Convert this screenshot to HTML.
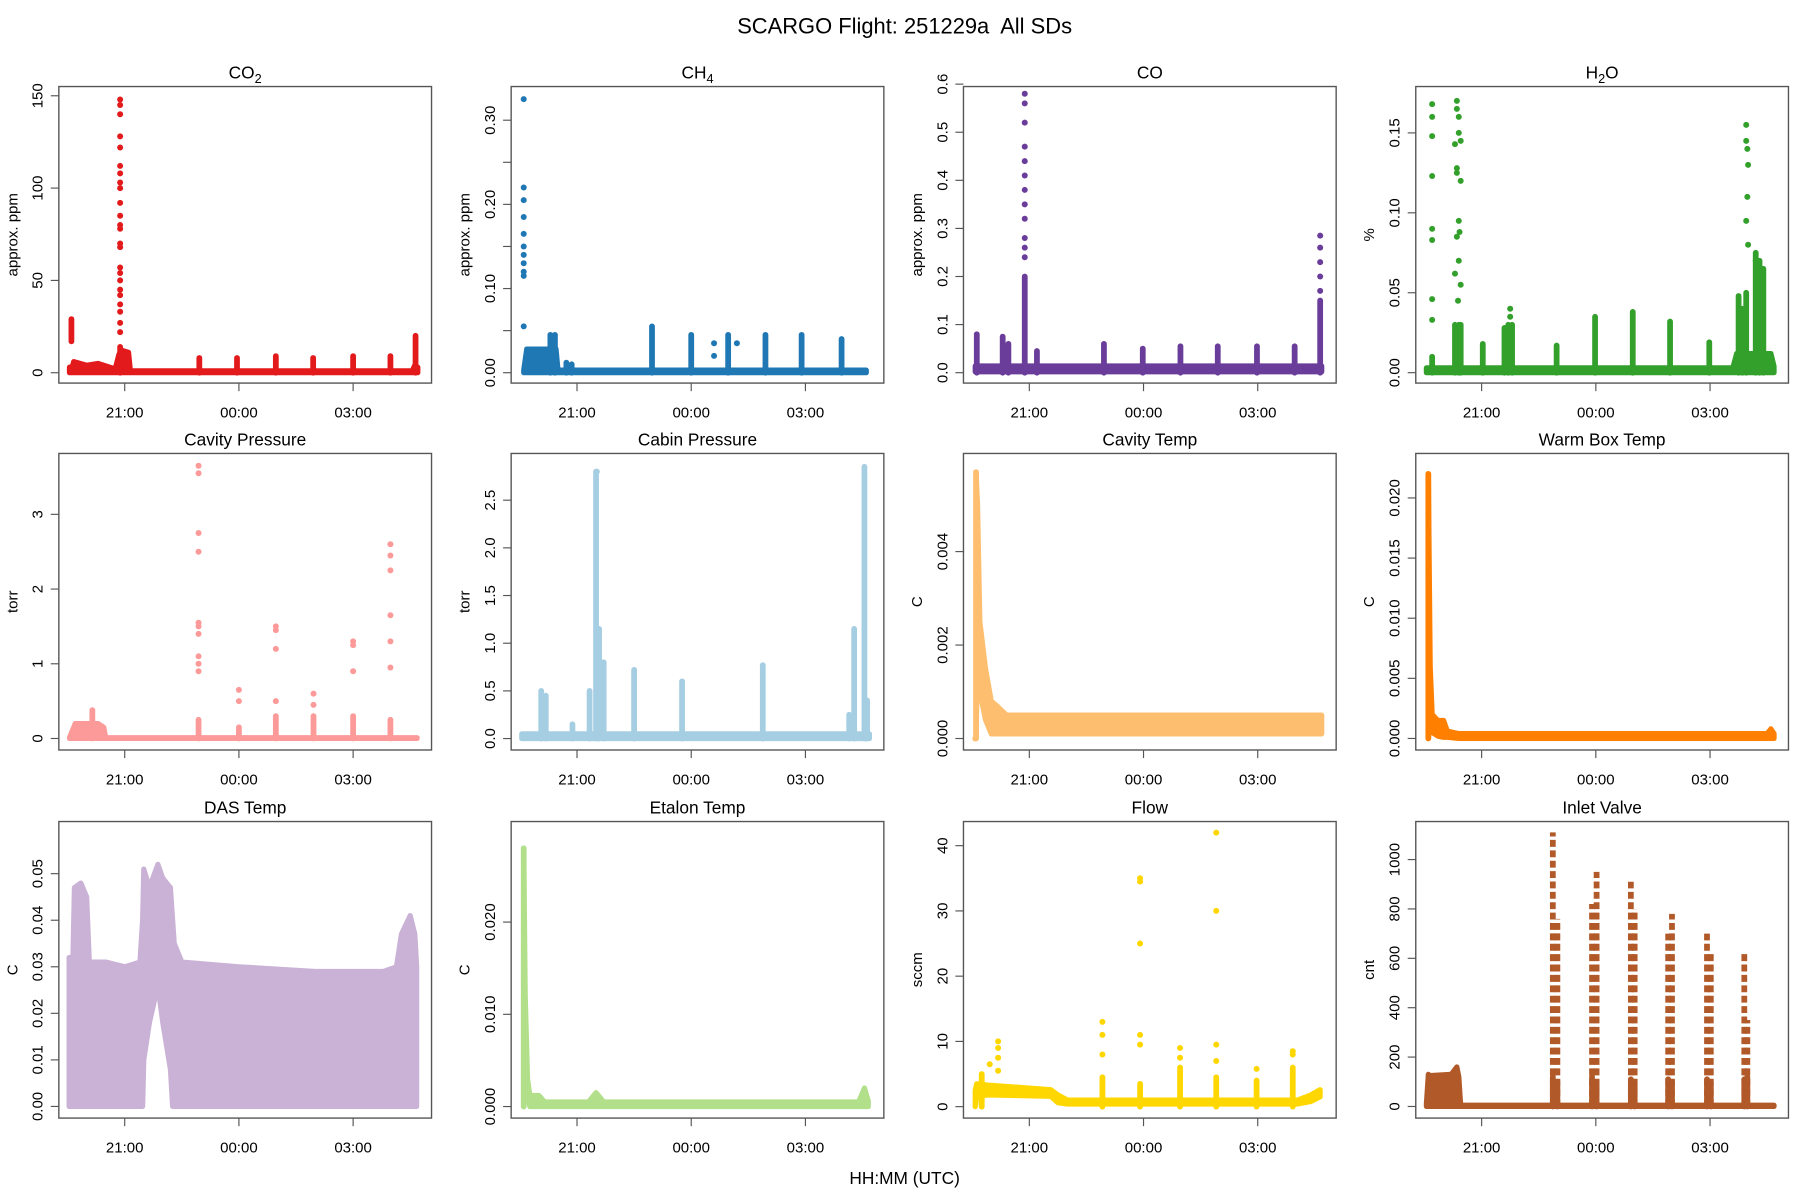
<!DOCTYPE html>
<html><head><meta charset="utf-8"><style>
html,body{margin:0;padding:0;background:#fff;}
svg{display:block;font-family:"Liberation Sans",sans-serif;}
</style></head><body>
<svg id="fig" xmlns="http://www.w3.org/2000/svg" width="1800" height="1200" viewBox="0 0 1560 1040">
<rect width="1560" height="1040" fill="#fff"/>
<text x="784" y="29" font-size="19" text-anchor="middle" xml:space="preserve">SCARGO Flight: 251229a  All SDs</text>
<text x="784" y="1026" font-size="15" text-anchor="middle">HH:MM (UTC)</text>
</svg>
<script>
// time in hours since 18:00 UTC
const xTickHours = [3, 6, 9];
const xTickLabels = ["21:00", "00:00", "03:00"];
const xDomain = [1.27, 11.06];

// ---- CO2 ----
const co2BandT = [1.55,1.62,1.66,2.0,2.3,2.6,2.75,2.85,2.95,3.1,3.15,10.55,10.62,10.7];
const co2BandLo = [0,0,0,0,0,0,0,0,0,0,0,0,0,0];
const co2BandHi = [3,3,6,4,5,3,2,10,12,11,1,1,4,3];
const co2ColT = [1.6,2.88,4.96,5.95,6.97,7.95,9.0,9.98,10.64];
const co2ColLo = [17,0,0,0,0,0,0,0,0];
const co2ColHi = [29,14,8,8,9,8,9,9,20];
const co2PtT = [2.88,2.88,2.88,2.88,2.88,2.88,2.88,2.88,2.88,2.88,2.88,2.88,2.88,2.88,2.88,2.88,2.88,2.88,2.88,2.88,2.88,2.88,2.88,2.88];
const co2PtV = [148,145,140,128,122,112,108,103,100,92,85,80,78,70,68,57,54,50,45,42,37,33,27,22];
// ---- CH4 ----
const ch4BandT = [1.6,1.68,2.45,2.5,10.6];
const ch4BandLo = [0,0,0,0,0];
const ch4BandHi = [0.003,0.028,0.028,0.003,0.003];
const ch4ColT = [2.3,2.42,2.72,2.86,4.97,6.0,6.97,7.95,8.9,9.95];
const ch4ColLo = [0,0,0,0,0,0,0,0,0,0];
const ch4ColHi = [0.045,0.045,0.012,0.01,0.055,0.045,0.045,0.045,0.045,0.04];
const ch4PtT = [1.6,1.6,1.6,1.6,1.6,1.6,1.6,1.6,1.6,1.6,1.6,6.6,6.6,7.2];
const ch4PtV = [0.325,0.22,0.205,0.185,0.165,0.15,0.14,0.13,0.12,0.115,0.055,0.035,0.02,0.035];
// ---- CO ----
const coBandT = [1.58,10.68];
const coBandLo = [0.002,0.002];
const coBandHi = [0.014,0.014];
const coColT = [1.62,2.3,2.45,2.88,3.2,4.96,5.98,6.97,7.95,8.98,9.97,10.64];
const coColLo = [0,0,0,0,0,0,0,0,0,0,0,0];
const coColHi = [0.08,0.075,0.06,0.2,0.045,0.06,0.05,0.055,0.055,0.055,0.055,0.15];
const coPtT = [2.88,2.88,2.88,2.88,2.88,2.88,2.88,2.88,2.88,2.88,2.88,2.88,10.64,10.64,10.64,10.64,10.64];
const coPtV = [0.58,0.56,0.52,0.47,0.44,0.41,0.38,0.35,0.32,0.28,0.26,0.24,0.285,0.26,0.23,0.2,0.17];
// ---- H2O ----
const h2oBandT = [1.55,9.6,9.7,10.6,10.68];
const h2oBandLo = [0,0,0,0,0];
const h2oBandHi = [0.003,0.003,0.012,0.012,0.004];
const h2oColT = [1.7,2.3,2.4,2.45,3.03,3.6,3.7,3.8,4.97,5.98,6.97,7.95,8.98,9.75,9.85,9.95,10.2,10.3,10.4];
const h2oColLo = [0,0,0,0,0,0,0,0,0,0,0,0,0,0,0,0,0,0,0];
const h2oColHi = [0.01,0.03,0.03,0.03,0.018,0.028,0.03,0.03,0.017,0.035,0.038,0.032,0.019,0.048,0.04,0.05,0.075,0.07,0.065];
const h2oPtT = [1.7,1.7,1.7,1.7,1.7,1.7,1.7,1.7,2.35,2.35,2.4,2.4,2.45,2.45,2.35,2.4,2.35,2.4,2.45,2.3,2.35,2.42,2.3,2.38,3.75,3.75,9.95,9.95,9.98,10.0,9.98,9.95,10.0,10.2,10.25];
const h2oPtV = [0.168,0.16,0.148,0.123,0.09,0.083,0.046,0.033,0.17,0.165,0.16,0.15,0.145,0.12,0.125,0.095,0.085,0.07,0.055,0.143,0.128,0.088,0.062,0.045,0.04,0.035,0.155,0.145,0.14,0.13,0.11,0.095,0.08,0.07,0.06];
// ---- Cavity Pressure ----
const cpBandT = [1.55,1.62,1.7,2.3,2.45,2.5,10.68];
const cpBandLo = [0,0,0,0,0,0,0];
const cpBandHi = [0.01,0.1,0.2,0.2,0.15,0.01,0.01];
const cpColT = [2.15,4.94,6.0,6.97,7.96,9.0,9.98];
const cpColLo = [0,0,0,0,0,0,0];
const cpColHi = [0.38,0.25,0.15,0.3,0.3,0.3,0.25];
const cpPtT = [4.94,4.94,4.94,4.94,4.94,4.94,4.94,4.94,4.94,4.94,6.0,6.0,6.97,6.97,6.97,6.97,7.96,7.96,9.0,9.0,9.0,9.98,9.98,9.98,9.98,9.98,9.98];
const cpPtV = [3.65,3.55,2.75,2.5,1.55,1.5,1.4,1.1,1.0,0.9,0.65,0.5,1.5,1.45,1.2,0.5,0.6,0.45,1.3,1.25,0.9,2.6,2.45,2.25,1.65,1.3,0.95];
// ---- Cabin Pressure ----
const cabBandT = [1.55,10.68];
const cabBandLo = [0,0];
const cabBandHi = [0.05,0.05];
const cabColT = [2.06,2.18,2.88,3.33,3.5,3.58,3.7,4.5,5.76,7.88,10.15,10.28,10.55,10.62];
const cabColLo = [0,0,0,0,0,0,0,0,0,0,0,0,0,0];
const cabColHi = [0.5,0.45,0.15,0.5,2.8,1.15,0.8,0.72,0.6,0.77,0.25,1.15,2.85,0.4];
const cabPtT = [3.52];
const cabPtV = [2.8];
// ---- Cavity Temp ----
const ctBandT = [1.6,1.64,1.7,1.85,2.0,2.15,2.4,10.68];
const ctBandLo = [0.0,0.0016,0.001,0.0004,0.0001,0.0001,0.0001,0.0001];
const ctBandHi = [0.0057,0.005,0.0025,0.0015,0.0008,0.0007,0.0005,0.0005];
const ctColT = [1.6];
const ctColLo = [0.0];
const ctColHi = [0.0057];
const ctPtT = [1.58];
const ctPtV = [0.0];
// ---- Warm Box Temp ----
const wbBandT = [1.6,1.65,1.7,1.85,2.0,2.1,2.4,10.5,10.6,10.68];
const wbBandLo = [0.0,0.002,0.0005,0.0002,0.0001,0.0001,0.0,0.0,0.0,0.0];
const wbBandHi = [0.022,0.006,0.002,0.0015,0.0015,0.0006,0.0004,0.0004,0.0008,0.0004];
const wbColT = [1.6];
const wbColLo = [0];
const wbColHi = [0.022];
const wbPtT = [];
const wbPtV = [];
// ---- DAS Temp ----
const dasBandT = [1.54,1.64,1.68,1.85,2.0,2.07,2.5,3.0,3.4,3.47,3.5,3.65,3.87,4.0,4.2,4.26,4.3,4.5,6.0,8.0,9.8,10.14,10.27,10.5,10.62,10.67];
const dasBandLo = [0,0,0,0,0,0,0,0,0,0,0.01,0.018,0.026,0.018,0.008,0,0,0,0,0,0,0,0,0,0,0];
const dasBandHi = [0.032,0.032,0.047,0.048,0.045,0.031,0.031,0.03,0.031,0.04,0.051,0.047,0.052,0.049,0.047,0.04,0.035,0.031,0.03,0.029,0.029,0.03,0.037,0.041,0.037,0.03];
const dasColT = [];
const dasColLo = [];
const dasColHi = [];
const dasPtT = [];
const dasPtV = [];
// ---- Etalon Temp ----
const etBandT = [1.6,1.64,1.7,1.76,2.0,2.15,3.3,3.5,3.7,10.4,10.55,10.65];
const etBandLo = [0,0.004,0.001,0,0,0,0,0,0,0,0,0];
const etBandHi = [0.028,0.012,0.003,0.0012,0.0012,0.0005,0.0005,0.0015,0.0005,0.0005,0.002,0.0006];
const etColT = [1.6];
const etColLo = [0];
const etColHi = [0.028];
const etPtT = [];
const etPtV = [];
// ---- Flow ----
const flBandT = [1.58,1.62,1.9,3.56,3.75,4.0,10.05,10.4,10.64];
const flBandLo = [0,1.5,1.8,1.6,0.6,0.4,0.4,0.8,1.5];
const flBandHi = [2.5,3.5,3.3,2.6,1.8,1.0,1.0,1.8,2.6];
const flColT = [1.75,4.92,5.91,6.96,7.91,8.97,9.92];
const flColLo = [0,0,0,0,0,0,0];
const flColHi = [5,4.5,3.5,6,4.5,4,6];
const flPtT = [1.96,2.18,2.18,2.18,2.18,4.92,4.92,4.92,5.91,5.91,5.91,5.91,5.91,6.96,6.96,7.91,7.91,7.91,7.91,8.97,9.92,9.92];
const flPtV = [6.5,10,9,7.5,5.5,13,11,8,35,34.5,25,11,9.5,9,7.5,42,30,9.5,7,5.8,8.5,8];
// ---- Inlet Valve ----
const ivBandT = [1.55,1.6,1.65,2.2,2.35,2.4,2.45,10.68];
const ivBandLo = [0,0,0,0,0,0,0,0];
const ivBandHi = [10,130,125,130,160,120,5,5];
const ivColT = [4.87,4.99,5.9,6.02,6.92,7.02,7.9,8.0,8.92,9.02,9.9,9.98];
const ivColLo = [0,0,0,0,0,0,0,0,0,0,0,0];
const ivColHi = [120,100,120,100,110,100,110,100,110,100,110,120];
const ivDotT = [4.87,4.99,5.9,6.02,6.92,7.02,7.9,8.0,8.92,9.02,9.9,9.98];
const ivDotHi = [1110,760,820,950,910,800,700,780,700,620,630,350];

const panels = [
 {n:"co2",t:["CO","2"],yl:"approx. ppm",c:"#E31A1C",col:0,row:0,yd:[-5.6,155],yt:[0,50,100,150],ytl:["0","50","100","150"],b:[co2BandT,co2BandLo,co2BandHi],k:[co2ColT,co2ColLo,co2ColHi],p:[co2PtT,co2PtV]},
 {n:"ch4",t:["CH","4"],yl:"approx. ppm",c:"#1F78B4",col:1,row:0,yd:[-0.0123,0.34],yt:[0,0.05,0.1,0.15,0.2,0.25,0.3],ytl:["0.00","","0.10","","0.20","","0.30"],b:[ch4BandT,ch4BandLo,ch4BandHi],k:[ch4ColT,ch4ColLo,ch4ColHi],p:[ch4PtT,ch4PtV]},
 {n:"co",t:["CO",""],yl:"approx. ppm",c:"#6A3D9A",col:2,row:0,yd:[-0.0216,0.595],yt:[0,0.1,0.2,0.3,0.4,0.5,0.6],ytl:["0.0","0.1","0.2","0.3","0.4","0.5","0.6"],b:[coBandT,coBandLo,coBandHi],k:[coColT,coColLo,coColHi],p:[coPtT,coPtV]},
 {n:"h2o",t:["H","2","O"],yl:"%",c:"#33A02C",col:3,row:0,yd:[-0.0065,0.179],yt:[0,0.05,0.1,0.15],ytl:["0.00","0.05","0.10","0.15"],b:[h2oBandT,h2oBandLo,h2oBandHi],k:[h2oColT,h2oColLo,h2oColHi],p:[h2oPtT,h2oPtV]},
 {n:"cavity-pressure",t:["Cavity Pressure",""],yl:"torr",c:"#FB9A99",col:0,row:1,yd:[-0.154,3.815],yt:[0,1,2,3],ytl:["0","1","2","3"],b:[cpBandT,cpBandLo,cpBandHi],k:[cpColT,cpColLo,cpColHi],p:[cpPtT,cpPtV]},
 {n:"cabin-pressure",t:["Cabin Pressure",""],yl:"torr",c:"#A6CEE3",col:1,row:1,yd:[-0.12,2.99],yt:[0,0.5,1,1.5,2,2.5],ytl:["0.0","0.5","1.0","1.5","2.0","2.5"],b:[cabBandT,cabBandLo,cabBandHi],k:[cabColT,cabColLo,cabColHi],p:[cabPtT,cabPtV]},
 {n:"cavity-temp",t:["Cavity Temp",""],yl:"C",c:"#FDBF6F",col:2,row:1,yd:[-0.000246,0.0061],yt:[0,0.002,0.004],ytl:["0.000","0.002","0.004"],b:[ctBandT,ctBandLo,ctBandHi],k:[ctColT,ctColLo,ctColHi],p:[ctPtT,ctPtV]},
 {n:"warm-box-temp",t:["Warm Box Temp",""],yl:"C",c:"#FF7F00",col:3,row:1,yd:[-0.00096,0.0237],yt:[0,0.005,0.01,0.015,0.02],ytl:["0.000","0.005","0.010","0.015","0.020"],b:[wbBandT,wbBandLo,wbBandHi],k:[wbColT,wbColLo,wbColHi],p:[wbPtT,wbPtV]},
 {n:"das-temp",t:["DAS Temp",""],yl:"C",c:"#CAB2D6",col:0,row:2,yd:[-0.0025,0.0612],yt:[0,0.01,0.02,0.03,0.04,0.05],ytl:["0.00","0.01","0.02","0.03","0.04","0.05"],b:[dasBandT,dasBandLo,dasBandHi],k:[dasColT,dasColLo,dasColHi],p:[dasPtT,dasPtV]},
 {n:"etalon-temp",t:["Etalon Temp",""],yl:"C",c:"#B2DF8A",col:1,row:2,yd:[-0.00125,0.0309],yt:[0,0.01,0.02],ytl:["0.000","0.010","0.020"],b:[etBandT,etBandLo,etBandHi],k:[etColT,etColLo,etColHi],p:[etPtT,etPtV]},
 {n:"flow",t:["Flow",""],yl:"sccm",c:"#FFD700",col:2,row:2,yd:[-1.75,43.7],yt:[0,10,20,30,40],ytl:["0","10","20","30","40"],b:[flBandT,flBandLo,flBandHi],k:[flColT,flColLo,flColHi],p:[flPtT,flPtV]},
 {n:"inlet-valve",t:["Inlet Valve",""],yl:"cnt",c:"#B15928",col:3,row:2,yd:[-47,1154],yt:[0,200,400,600,800,1000],ytl:["0","200","400","600","800","1000"],b:[ivBandT,ivBandLo,ivBandHi],k:[ivColT,ivColLo,ivColHi],p:[[],[]],d:[ivDotT,ivDotHi]}
];
const rowTops=[75,393,712];
const W=323,H=257;
const NS="http://www.w3.org/2000/svg";
const svg=document.getElementById('fig');
function mk(tag,attrs,parent){const e=document.createElementNS(NS,tag);for(const k in attrs)e.setAttribute(k,attrs[k]);(parent||svg).appendChild(e);return e;}
panels.forEach(P=>{
  const L=51+392*P.col, T=rowTops[P.row], B=T+H;
  const xs=h=>L+(h-xDomain[0])/(xDomain[1]-xDomain[0])*W;
  const ys=v=>B-(v-P.yd[0])/(P.yd[1]-P.yd[0])*H;
  const g=mk('g',{});
  
  
  const cp=mk('clipPath',{id:'cp-'+P.n},g);
  mk('rect',{x:L,y:T,width:W,height:H},cp);
  const dg=mk('g',{'clip-path':'url(#cp-'+P.n+')'},g);
  
  
  const [bt,bl,bh]=P.b;
  if(bt.length){
    let pts=[];
    for(let i=0;i<bt.length;i++)pts.push(xs(bt[i]).toFixed(1)+','+ys(bh[i]).toFixed(1));
    for(let i=bt.length-1;i>=0;i--)pts.push(xs(bt[i]).toFixed(1)+','+ys(bl[i]).toFixed(1));
    const pg=mk('polygon',{points:pts.join(' '),fill:P.c,stroke:P.c,'stroke-width':4.5,'stroke-linejoin':'round'},dg);
    
    
  }
  const [ct,cl,ch]=P.k;
  for(let i=0;i<ct.length;i++){
    const ln=mk('line',{x1:xs(ct[i]),x2:xs(ct[i]),y1:ys(cl[i]),y2:ys(ch[i]),stroke:P.c,'stroke-width':5,'stroke-linecap':'round'},dg);
    
    
  }
  if(P.d){
    const [dt,dh]=P.d;
    for(let i=0;i<dt.length;i++){
      const ln=mk('line',{x1:xs(dt[i]),x2:xs(dt[i]),y1:ys(0),y2:ys(dh[i]),stroke:P.c,'stroke-width':5,'stroke-dasharray':'6 3'},dg);
      
      
    }
  }
  const [pt,pv]=P.p;
  for(let i=0;i<pt.length;i++){
    const c=mk('circle',{cx:xs(pt[i]),cy:ys(pv[i]),r:2.6,fill:P.c},dg);
    
    
  }
  const bx=mk('rect',{x:L,y:T,width:W,height:H,fill:'none',stroke:'#555','stroke-width':1.2},g);
  
  
  xTickHours.forEach((h,i)=>{
    mk('line',{x1:xs(h),x2:xs(h),y1:B,y2:B+7,stroke:'#555','stroke-width':1},g);
    const t=mk('text',{x:xs(h),y:B+30,'font-size':13,'text-anchor':'middle'},g);
    t.textContent=xTickLabels[i];
    
    
  });
  P.yt.forEach((v,i)=>{
    const y=ys(v);
    mk('line',{x1:L-7,x2:L,y1:y,y2:y,stroke:'#555','stroke-width':1},g);
    if(P.ytl[i]){
      const t=mk('text',{x:L-14,y:y,'font-size':13,'text-anchor':'middle',transform:'rotate(-90 '+(L-14)+' '+y+')'},g);
      t.textContent=P.ytl[i];
      
      
    }
  });
  const yl=mk('text',{x:L-36,y:(T+B)/2,'font-size':13,'text-anchor':'middle',transform:'rotate(-90 '+(L-36)+' '+((T+B)/2)+')'},g);
  yl.textContent=P.yl;
  
  
  const tt=mk('text',{x:L+W/2,y:T-7,'font-size':15,'text-anchor':'middle'},g);
  
  
  tt.appendChild(document.createTextNode(P.t[0]));
  if(P.t[1]){const s=mk('tspan',{'font-size':11,dy:4},tt);s.textContent=P.t[1];}
  if(P.t[2]){const s=mk('tspan',{'font-size':15,dy:-4},tt);s.textContent=P.t[2];}
});
</script>
</body></html>
